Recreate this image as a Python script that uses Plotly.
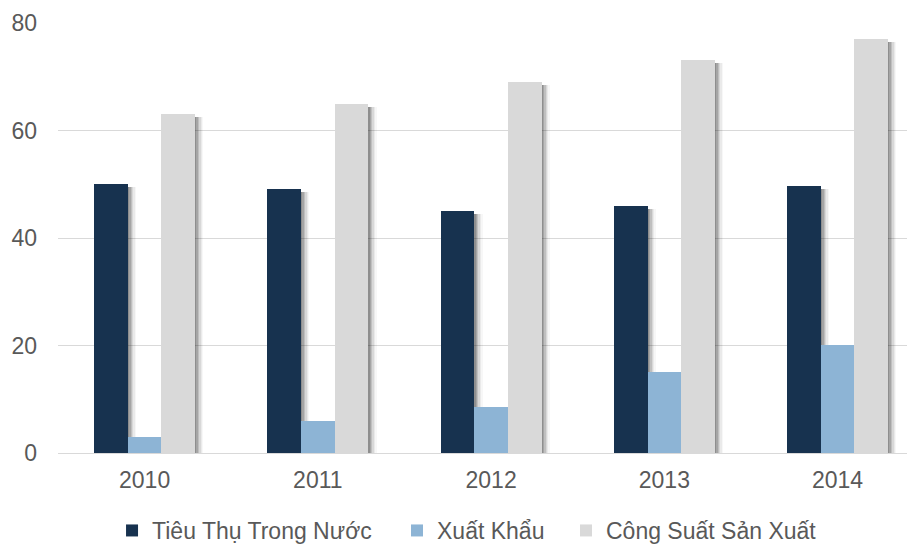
import plotly.graph_objects as go

years = ["2010", "2011", "2012", "2013", "2014"]
domestic = [50.0, 49.1, 45.0, 46.0, 49.7]
export = [3.0, 6.0, 8.6, 15.1, 20.1]
capacity = [63.1, 64.9, 69.0, 73.1, 77.0]
series_names = ["Tiêu Thụ Trong Nước", "Xuất Khẩu", "Công Suất Sản Xuất"]
y_ticks = [0, 20, 40, 60, 80]

colors = ["#17324F", "#8DB4D5", "#D9D9D9"]
bar_w = 0.194
offsets = [-0.291, -0.097, 0.097]
series = [domestic, export, capacity]

fig = go.Figure()

# soft drop shadows (drawn first so bars sit on top)
for vals, off in zip(series, offsets):
    for dx, alpha in [(0.008, 0.14), (0.016, 0.13), (0.024, 0.11),
                      (0.032, 0.08), (0.040, 0.05), (0.048, 0.03)]:
        fig.add_trace(go.Bar(
            x=years, y=[v - 0.6 for v in vals], width=bar_w, offset=off + dx,
            marker=dict(color=f"rgba(0,0,0,{alpha})", line=dict(width=0)),
            showlegend=False, hoverinfo="skip"))

legend_ids = ["legend", "legend2", "legend3"]
for name, vals, off, col, lg in zip(series_names, series, offsets, colors, legend_ids):
    fig.add_trace(go.Bar(
        x=years, y=vals, width=bar_w, offset=off, name=name,
        marker=dict(color=col, line=dict(width=0)), legend=lg))

legend_style = dict(orientation="h", xref="container", yref="container",
                    xanchor="left", yanchor="middle", y=0.027,
                    font=dict(family="Liberation Sans, Arial, sans-serif", size=23, color="#595959"),
                    bgcolor="rgba(0,0,0,0)", borderwidth=0, itemwidth=30)

fig.update_layout(
    width=907, height=537,
    margin=dict(l=50, r=0, t=15, b=92),
    plot_bgcolor="white", paper_bgcolor="white",
    barmode="overlay", bargap=0,
    font=dict(family="Liberation Sans, Arial, sans-serif", color="#595959"),
    xaxis=dict(type="category", range=[-0.5, 4.447], showgrid=False,
               showline=False, zeroline=False, ticks="",
               tickfont=dict(size=23, color="#595959"), ticklabelstandoff=11),
    yaxis=dict(range=[0, 80], tickvals=y_ticks, showgrid=True,
               gridcolor="#D9D9D9", gridwidth=1.3, zeroline=True,
               zerolinecolor="#D9D9D9", zerolinewidth=1.3, showline=False, ticks="",
               tickfont=dict(size=23, color="#595959"), ticklabelstandoff=20),
    legend=dict(**legend_style, x=0.1147),
    legend2=dict(**legend_style, x=0.4289),
    legend3=dict(**legend_style, x=0.6152),
)

fig.write_html("out.html")
